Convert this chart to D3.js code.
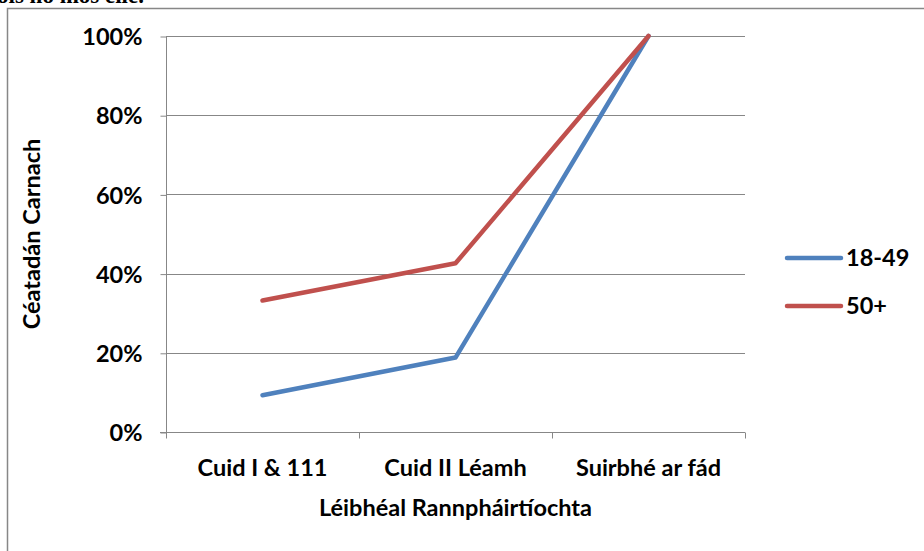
<!DOCTYPE html>
<html>
<head>
<meta charset="utf-8">
<script src="https://cdn.jsdelivr.net/npm/d3@7"></script>
<style>
  body { margin: 0; background: #fff; }
  svg { display: block; }
  text { font-family: Lato, "Open Sans", sans-serif; font-weight: bold; fill: #000; }
</style>
</head>
<body>
<script>
// data
const categories = ["Cuid I & 111", "Cuid II Léamh", "Suirbhé ar fád"]
const seriesNames = ["18-49", "50+"]
const young = [0.093, 0.188, 1.0]
const older = [0.332, 0.426, 1.0]
const yTicks = [0, 0.2, 0.4, 0.6, 0.8, 1.0]
const colors = ["#4F81BD", "#C0504D"]

const width = 924, height = 551
const margin = {left: 166, right: 179, top: 36, bottom: 119}
const fontSize = '23.5px'

const svg = d3.select('body').append('svg')
  .attr('width', width)
  .attr('height', height)

// clipped text from the page above the chart
svg.append('text')
  .attr('x', -3).attr('y', 3)
  .style('font-family', '"Liberation Serif", serif')
  .style('font-size', '23px')
  .text('ois no mos eile.')

// chart frame (runs off right and bottom)
svg.append('path')
  .attr('d', 'M7.5,' + (height + 5) + 'V8.5H' + (width + 5))
  .attr('fill', 'none')
  .attr('stroke', '#878787')
  .attr('stroke-width', 1.5)

const x = d3.scaleBand()
  .domain(categories)
  .range([margin.left, width - margin.right])

const y = d3.scaleLinear()
  .domain([0, 1])
  .range([height - margin.bottom, margin.top])

// gridlines
svg.append('g')
  .selectAll('line')
  .data(yTicks.slice(1))
  .enter()
  .append('line')
  .attr('x1', margin.left)
  .attr('x2', width - margin.right)
  .attr('y1', d => Math.round(y(d)) + 0.5)
  .attr('y2', d => Math.round(y(d)) + 0.5)
  .attr('stroke', '#878787')
  .attr('stroke-width', 1)

// y axis
const yAxis = svg.append('g')
  .attr('transform', 'translate(' + (margin.left + 0.5) + ',0.5)')
  .call(d3.axisLeft(y).tickValues(yTicks).tickFormat(d3.format('.0%')).tickSize(6).tickPadding(18))
yAxis.select('.domain').attr('stroke', '#878787').attr('d', 'M0,' + Math.round(y(1)) + 'V' + Math.round(y(0)))
yAxis.selectAll('.tick line').attr('stroke', '#878787')
yAxis.selectAll('.tick text')
  .style('font-size', fontSize)
  .style('font-family', 'Lato, sans-serif')
  .attr('dy', '0.35em')

// x axis
const xAxis = svg.append('g')
  .attr('transform', 'translate(0,' + (Math.round(y(0)) + 0.5) + ')')
xAxis.append('line')
  .attr('x1', margin.left - 6).attr('x2', width - margin.right)
  .attr('stroke', '#878787')
const xEdges = categories.map(c => x(c)).concat([x.range()[1]])
xAxis.selectAll('line.tk')
  .data(xEdges)
  .enter()
  .append('line')
  .attr('class', 'tk')
  .attr('x1', d => Math.round(d) + 0.5)
  .attr('x2', d => Math.round(d) + 0.5)
  .attr('y1', 0).attr('y2', 6)
  .attr('stroke', '#878787')
xAxis.selectAll('text')
  .data(categories)
  .enter()
  .append('text')
  .attr('x', d => x(d) + x.bandwidth() / 2)
  .attr('y', 35)
  .attr('dy', '0.35em')
  .attr('text-anchor', 'middle')
  .style('font-size', fontSize)
  .text(d => d)

// axis titles
svg.append('text')
  .attr('x', x.range()[0] + (x.range()[1] - x.range()[0]) / 2)
  .attr('y', 508)
  .attr('dy', '0.35em')
  .attr('text-anchor', 'middle')
  .style('font-size', fontSize)
  .text('Léibhéal Rannpháirtíochta')

svg.append('text')
  .attr('transform', 'translate(32,' + ((y(0) + y(1)) / 2) + ') rotate(-90)')
  .attr('dy', '0.35em')
  .attr('text-anchor', 'middle')
  .style('font-size', fontSize)
  .text('Céatadán Carnach')

// lines
const line = d3.line()
  .x((d, i) => x(categories[i]) + x.bandwidth() / 2)
  .y(d => y(d))

svg.selectAll('path.series')
  .data([young, older])
  .enter()
  .append('path')
  .attr('class', 'series')
  .attr('d', line)
  .attr('fill', 'none')
  .attr('stroke', (d, i) => colors[i])
  .attr('stroke-width', 4.5)
  .attr('stroke-linecap', 'round')
  .attr('stroke-linejoin', 'round')

// legend
const legend = svg.selectAll('g.legend')
  .data(seriesNames)
  .enter()
  .append('g')
  .attr('class', 'legend')
  .attr('transform', (d, i) => 'translate(787,' + (258 + i * 48) + ')')
legend.append('line')
  .attr('x1', 0).attr('x2', 54)
  .attr('stroke', (d, i) => colors[i])
  .attr('stroke-width', 4.5)
  .attr('stroke-linecap', 'round')
legend.append('text')
  .attr('x', 59)
  .attr('dy', '0.35em')
  .style('font-size', fontSize)
  .text(d => d)
</script>
</body>
</html>
